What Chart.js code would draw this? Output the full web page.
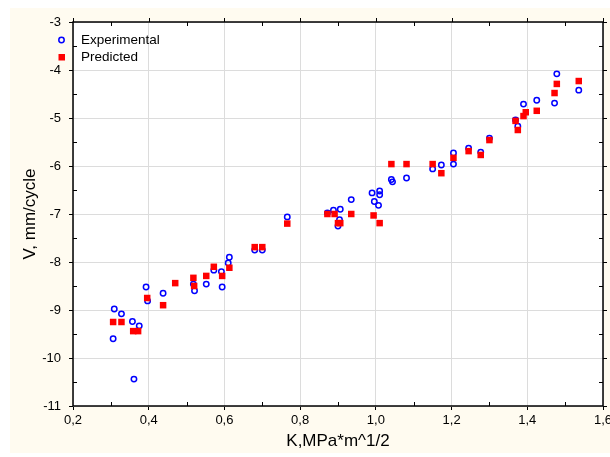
<!DOCTYPE html>
<html>
<head>
<meta charset="utf-8">
<script src="https://cdn.jsdelivr.net/npm/chart.js@4.4.1/dist/chart.umd.min.js"></script>
<style>
  html, body { margin: 0; padding: 0; background: #fff; }
  #wrap { width: 610px; height: 457px; }
</style>
</head>
<body>
<div id="wrap"><canvas id="myChart" width="610" height="457"></canvas></div>
<script>
// Experimental points (K, V)
const expK = [0.306, 0.309, 0.328, 0.357, 0.375, 0.361, 0.393, 0.397, 0.438, 0.518, 0.521, 0.552,
  0.572, 0.592, 0.594, 0.610, 0.613, 0.680, 0.700, 0.766, 0.872, 0.888, 0.906, 0.904, 0.900, 0.935,
  0.990, 1.010, 1.010, 0.996, 1.007, 1.041, 1.044, 1.081, 1.150, 1.173, 1.205, 1.205, 1.245, 1.277,
  1.300, 1.369, 1.375, 1.390, 1.425, 1.472, 1.478, 1.536];
const expV = [-9.60, -8.98, -9.08, -9.24, -9.33, -10.44, -8.52, -8.81, -8.65, -8.46, -8.60, -8.46,
  -8.17, -8.20, -8.52, -8.02, -7.90, -7.75, -7.75, -7.06, -6.98, -6.92, -6.90, -7.12, -7.25, -6.70,
  -6.56, -6.52, -6.60, -6.74, -6.82, -6.28, -6.33, -6.25, -6.06, -5.98, -5.73, -5.96, -5.63, -5.71,
  -5.42, -5.04, -5.17, -4.71, -4.63, -4.69, -4.08, -4.42];

// Predicted points (K, V)
const predK = [0.306, 0.328, 0.359, 0.372, 0.396, 0.438, 0.470, 0.518, 0.520, 0.552, 0.572, 0.594,
  0.613, 0.680, 0.700, 0.766, 0.872, 0.891, 0.900, 0.906, 0.935, 0.994, 1.010, 1.041, 1.081, 1.150,
  1.173, 1.205, 1.245, 1.277, 1.300, 1.369, 1.375, 1.390, 1.396, 1.425, 1.472, 1.478, 1.536];
const predV = [-9.25, -9.25, -9.44, -9.44, -8.75, -8.90, -8.44, -8.33, -8.50, -8.29, -8.10, -8.29,
  -8.12, -7.69, -7.69, -7.20, -7.00, -7.00, -7.19, -7.19, -7.00, -7.03, -7.19, -5.96, -5.96, -5.96,
  -6.15, -5.83, -5.69, -5.77, -5.46, -5.06, -5.25, -4.96, -4.88, -4.85, -4.48, -4.29, -4.23];

const xTicks = [0.2, 0.4, 0.6, 0.8, 1.0, 1.2, 1.4, 1.6];
const yTicks = [-11, -10, -9, -8, -7, -6, -5, -4, -3];

const seriesNames = ['Experimental', 'Predicted'];

const FONT = '"Liberation Sans", Arial, sans-serif';

function toPoints(xs, ys) {
    return xs.map((x, i) => ({ x: x, y: ys[i] }));
}

// background: cream panel, white plot area, black frame, minor ticks
const framePlugin = {
    id: 'frame',
    beforeDraw(chart) {
        const { ctx, chartArea: a } = chart;
        ctx.save();
        ctx.fillStyle = '#ffffff';
        ctx.fillRect(0, 0, chart.width, chart.height);
        ctx.fillStyle = '#fffbf0';
        ctx.fillRect(10, 8, chart.width - 10, chart.height - 12);
        ctx.fillStyle = '#ffffff';
        ctx.fillRect(a.left, a.top, a.right - a.left, a.bottom - a.top);
        ctx.restore();
    },
    afterDraw(chart) {
        const { ctx, chartArea: a } = chart;
        const xs = chart.scales.x, ys = chart.scales.y;
        ctx.save();
        ctx.strokeStyle = '#000';
        ctx.lineWidth = 1;
        ctx.beginPath();
        // minor ticks on x (every 0.1)
        for (let v = 0.3; v < 1.6; v += 0.2) {
            const px = Math.round(xs.getPixelForValue(v)) + 0.5;
            ctx.moveTo(px, a.bottom); ctx.lineTo(px, a.bottom - 4);
            ctx.moveTo(px, a.top); ctx.lineTo(px, a.top + 4);
        }
        // minor ticks on y (every 0.5)
        for (let v = -10.5; v < -3; v += 1) {
            const py = Math.round(ys.getPixelForValue(v)) + 0.5;
            ctx.moveTo(a.left, py); ctx.lineTo(a.left + 4, py);
            ctx.moveTo(a.right, py); ctx.lineTo(a.right - 4, py);
        }
        // major ticks on top / right
        xTicks.forEach(v => {
            const px = Math.round(xs.getPixelForValue(v)) + 0.5;
            ctx.moveTo(px, a.top); ctx.lineTo(px, a.top - 4);
        });
        yTicks.forEach(v => {
            const py = Math.round(ys.getPixelForValue(v)) + 0.5;
            ctx.moveTo(a.right, py); ctx.lineTo(a.right + 4, py);
        });
        ctx.stroke();
        ctx.lineWidth = 1.5;
        ctx.strokeRect(a.left, a.top, a.right - a.left, a.bottom - a.top);

        // legend
        const ds = chart.data.datasets;
        ctx.font = '13.5px ' + FONT;
        ctx.textBaseline = 'middle';
        ctx.fillStyle = '#000';
        ctx.fillText(seriesNames[0], 81, 40);
        ctx.fillText(seriesNames[1], 81, 57);
        ctx.strokeStyle = ds[0].borderColor;
        ctx.lineWidth = 1.5;
        ctx.beginPath();
        ctx.arc(61.5, 40, 2.7, 0, Math.PI * 2);
        ctx.stroke();
        ctx.fillStyle = ds[1].backgroundColor;
        ctx.fillRect(58.5, 54, 6.5, 6.5);
        ctx.restore();
    }
};

const ctx = document.getElementById('myChart').getContext('2d');
new Chart(ctx, {
    type: 'scatter',
    data: {
        datasets: [{
            label: seriesNames[0],
            data: toPoints(expK, expV),
            pointStyle: 'circle',
            pointRadius: 2.7,
            pointBorderWidth: 1.5,
            borderColor: '#0000ff',
            backgroundColor: 'rgba(255,255,255,0)',
            order: 2
        }, {
            label: seriesNames[1],
            data: toPoints(predK, predV),
            pointStyle: 'rect',
            pointRadius: 4.6,
            pointBorderWidth: 0,
            borderColor: '#ff0000',
            backgroundColor: '#ff0000',
            order: 1
        }]
    },
    options: {
        responsive: false,
        animation: false,
        layout: { padding: { left: 0, top: 22, right: 7, bottom: 0 } },
        plugins: {
            legend: { display: false },
            tooltip: { enabled: false }
        },
        scales: {
            x: {
                type: 'linear',
                min: 0.2,
                max: 1.6,
                afterBuildTicks: s => { s.ticks = xTicks.map(v => ({ value: v })); },
                afterFit: s => { s.height = 51; s.paddingLeft = 0; s.paddingRight = 0; },
                grid: { color: '#dcdcdc', lineWidth: 1, tickLength: 4, tickColor: '#000' },
                border: { display: false },
                ticks: {
                    color: '#000',
                    padding: 3,
                    maxRotation: 0,
                    font: { family: FONT, size: 13 },
                    callback: v => v.toFixed(1).replace('.', ',')
                },
                title: {
                    display: true,
                    text: 'K,MPa*m^1/2',
                    color: '#000',
                    font: { family: FONT, size: 17 },
                    padding: { top: 0, bottom: 5 }
                }
            },
            y: {
                type: 'linear',
                min: -11,
                max: -3,
                afterBuildTicks: s => { s.ticks = yTicks.map(v => ({ value: v })); },
                afterFit: s => { s.width = 73; s.paddingTop = 0; s.paddingBottom = 0; },
                grid: { color: '#dcdcdc', lineWidth: 1, tickLength: 4, tickColor: '#000' },
                border: { display: false },
                ticks: {
                    color: '#000',
                    padding: 8,
                    font: { family: FONT, size: 13 },
                    callback: v => String(v)
                },
                title: {
                    display: true,
                    text: 'V, mm/cycle',
                    color: '#000',
                    font: { family: FONT, size: 17 },
                    padding: { top: 20, bottom: 0 }
                }
            }
        }
    },
    plugins: [framePlugin]
});
</script>
</body>
</html>
